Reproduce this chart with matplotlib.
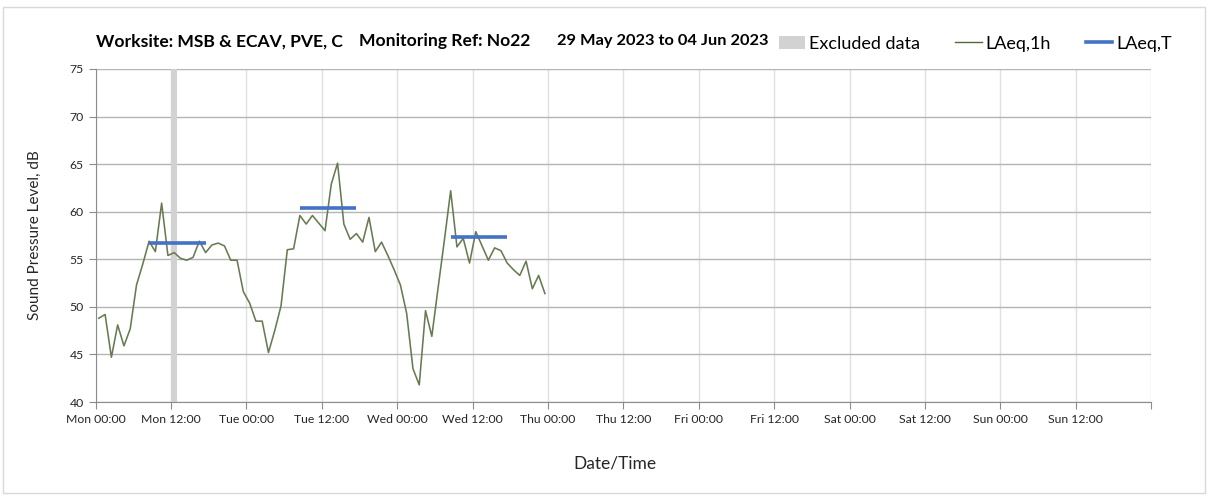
import numpy as np
import matplotlib.pyplot as plt
from matplotlib.patches import Patch, Rectangle
from matplotlib.lines import Line2D

plt.rcParams['font.family'] = ['Lato', 'DejaVu Sans']

# hourly LAeq,1h values from Mon 00:00 (one per hour)
laeq_1h = [48.8, 49.2, 44.7, 48.1, 45.9, 47.7, 52.3, 54.5, 56.9, 55.8,
           60.9, 55.4, 55.7, 55.1, 54.9, 55.2, 56.9, 55.7, 56.5, 56.7,
           56.4, 54.9, 54.9, 51.6, 50.4, 48.5, 48.5, 45.2, 47.5, 50.1,
           56.0, 56.1, 59.6, 58.7, 59.6, 58.8, 58.0, 62.9, 65.1, 58.7,
           57.1, 57.7, 56.8, 59.4, 55.8, 56.8, 55.4, 53.9, 52.3, 49.3,
           43.5, 41.8, 49.6, 46.9, 52.0, 57.0, 62.2, 56.3, 57.2, 54.6,
           57.9, 56.4, 54.9, 56.2, 55.9, 54.6, 53.9, 53.3, 54.8, 51.9,
           53.3, 51.4]
hours = np.arange(len(laeq_1h)) + 0.5

# LAeq,T daytime periods (hours from Mon 00:00)
laeq_t = [56.7, 60.4, 57.3]
laeq_t_start = [8.5, 32.5, 56.5]
laeq_t_end = [17.5, 41.5, 65.5]

# excluded data periods (hours)
excl_start = [12]
excl_end = [13]

days = ['Mon', 'Tue', 'Wed', 'Thu', 'Fri', 'Sat', 'Sun']
tick_labels = []
for d in days:
    tick_labels += [d + ' 00:00', d + ' 12:00']

fig = plt.figure(figsize=(12.08, 4.96), dpi=100)
ax = fig.add_axes([0.0792, 0.1895, 0.8738, 0.6715])

for a, b in zip(excl_start, excl_end):
    ax.axvspan(a, b, color='#d2d2d2', lw=0, zorder=1)
ax.plot(hours, laeq_1h, color='#677b52', lw=1.15, zorder=3)
ax.hlines(laeq_t, laeq_t_start, laeq_t_end, color='#4472c4', lw=2.6, zorder=4)

ax.set_xlim(0, 168)
ax.set_ylim(40, 75)
ax.set_xticks(np.arange(0, 169, 12))
ax.set_xticklabels(tick_labels + [''])
ax.set_yticks(range(40, 76, 5))
ax.grid(axis='y', color='#b4b4b4', lw=1)
ax.grid(axis='x', color='#e0e0e0', lw=1)
ax.set_axisbelow(True)
for s in ['top', 'right']:
    ax.spines[s].set_visible(False)
for s in ['left', 'bottom']:
    ax.spines[s].set_color('#8c8c8c')
ax.tick_params(length=5, color='#8c8c8c', labelsize=8.8, labelcolor='#262626')

ax.set_ylabel('Sound Pressure Level, dB', fontsize=11, color='#262626')
ax.yaxis.set_label_coords(-0.051, 0.5)
ax.set_xlabel('Date/Time', fontsize=12.5, color='#262626')
ax.xaxis.set_label_coords(0.492, -0.162)

ty = 0.917
fig.text(96 / 1208, ty, 'Worksite: MSB & ECAV, PVE, C', fontsize=12.6, fontweight='bold', va='center')
fig.text(359 / 1208, ty, 'Monitoring Ref: No22', fontsize=12.6, fontweight='bold', va='center')
fig.text(557 / 1208, ty, '29 May 2023 to 04 Jun 2023', fontsize=11.8, fontweight='bold', va='center')

handles = [Patch(facecolor='#d2d2d2', edgecolor='none', label='Excluded data'),
           Line2D([], [], color='#4f6b35', lw=1, label='LAeq,1h'),
           Line2D([], [], color='#4472c4', lw=2.6, label='LAeq,T')]
fig.legend(handles=handles, loc='center left', bbox_to_anchor=(779 / 1208, 0.912),
           ncol=3, frameon=False, fontsize=13, handlelength=1.45, handleheight=0.8,
           handletextpad=0.22, columnspacing=1.95, borderpad=0, borderaxespad=0)

fig.patches.append(Rectangle((3 / 1208, 3 / 496), 1202 / 1208, 486 / 496,
                             transform=fig.transFigure, fill=False,
                             edgecolor='#d9d9d9', lw=1))

fig.savefig('out.png', dpi=100)
